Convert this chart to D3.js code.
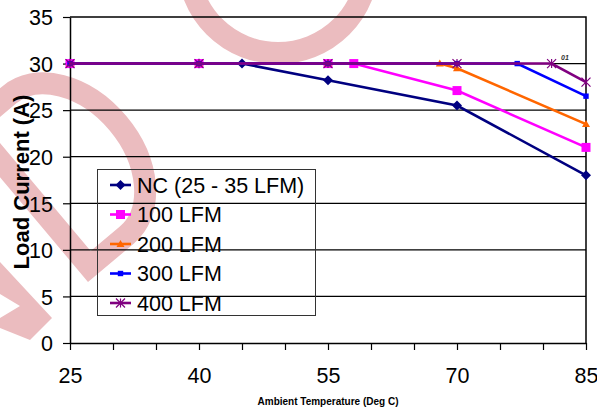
<!DOCTYPE html>
<html><head><meta charset="utf-8">
<script src="https://cdn.jsdelivr.net/npm/d3@7"></script>
<style>body{margin:0;background:#fff}svg{display:block}text{font-family:"Liberation Sans",Arial,sans-serif}</style>
</head><body><svg id="c" width="597" height="410"></svg>
<script>
const seriesNames = ["NC (25 - 35 LFM)", "100 LFM", "200 LFM", "300 LFM", "400 LFM"];
const ncTemps = [25, 40, 45, 55, 70, 85];
const ncValues = [30, 30, 30, 28.2, 25.5, 18];
const lfm100Temps = [25, 40, 55, 58, 70, 85];
const lfm100Values = [30, 30, 30, 30, 27.1, 21];
const lfm200Temps = [25, 40, 55, 68, 70, 85];
const lfm200Values = [30, 30, 30, 30, 29.5, 23.5];
const lfm300Temps = [25, 40, 55, 70, 77, 85];
const lfm300Values = [30, 30, 30, 30, 30, 26.5];
const lfm400Temps = [25, 40, 55, 70, 81, 85];
const lfm400Values = [30, 30, 30, 30, 30, 28];
const xTicks = [25, 30, 35, 40, 45, 50, 55, 60, 65, 70, 75, 80, 85];
const xTickLabels = [25, 40, 55, 70, 85];
const yTicks = [0, 5, 10, 15, 20, 25, 30, 35];
const colors = ["#000080", "#FF00FF", "#FF6600", "#0000FF", "#800080"];
const markers = ["diamond", "square", "triangle", "smallsquare", "asterisk"];

const svg = d3.select("#c");
const x = d3.scaleLinear().domain([25, 85]).range([70, 586]);
const y = d3.scaleLinear().domain([0, 35]).range([343, 17]);

// watermark
const wm = svg.append("g").attr("fill", "none").attr("stroke", "#ebbcbf").attr("stroke-width", 22);
wm.append("g").attr("transform", "translate(88,282) rotate(-40)")
  .append("path").attr("stroke-linejoin", "miter")
  .attr("d", "M60,-11 L11,-11 L11,-194 L60,-194 A65,91.5 0 0 1 60,-11 Z");
wm.append("circle").attr("cx", 278).attr("cy", -37).attr("r", 90);
svg.append("path").attr("fill", "#ebbcbf")
  .attr("d", "M0,262 L52,318 L30,340 L0,328 L0,318 L20,306 L0,294 Z");

// gridlines
svg.append("g").selectAll("line").data(yTicks.filter(d => d > 0 && d < 35)).join("line")
  .attr("x1", 70).attr("x2", 586).attr("y1", d => y(d)).attr("y2", d => y(d))
  .attr("stroke", "#000").attr("stroke-width", 1.2);
// border top / right
svg.append("path").attr("d", `M70,${y(35)}H586V${y(0)}`).attr("fill", "none").attr("stroke", "#000").attr("stroke-width", 1.5);

// axes
const xa = svg.append("g").attr("transform", `translate(0,${y(0)})`)
  .call(d3.axisBottom(x).tickValues(xTicks).tickSize(7).tickSizeOuter(0)
    .tickFormat(d => xTickLabels.includes(d) ? d : ""));
xa.select(".domain").attr("stroke-width", 1.5);
xa.selectAll("text").attr("font-size", 21.5).attr("fill", "#000").attr("dy", null).attr("y", 40);
const ya = svg.append("g").attr("transform", `translate(70,0)`)
  .call(d3.axisLeft(y).tickValues(yTicks).tickSize(7).tickSizeOuter(0));
ya.select(".domain").attr("stroke-width", 1.5);
ya.selectAll("text").attr("font-size", 21.5).attr("fill", "#000").attr("x", -17).attr("dy", "0.36em");
svg.selectAll(".tick line").attr("stroke", "#000").attr("stroke-width", 1.2);

// titles
svg.append("text").attr("transform", "translate(29,182) rotate(-90)").attr("text-anchor", "middle")
  .attr("font-size", 22).attr("font-weight", "bold").text("Load Current (A)");
svg.append("text").attr("x", 328).attr("y", 405).attr("text-anchor", "middle")
  .attr("font-size", 10).attr("font-weight", "bold").text("Ambient Temperature (Deg C)");

function drawMarker(g, type, cx, cy, color) {
  if (type === "diamond") {
    g.append("path").attr("d", `M${cx},${cy-5}L${cx+5},${cy}L${cx},${cy+5}L${cx-5},${cy}Z`).attr("fill", color);
  } else if (type === "square") {
    g.append("rect").attr("x", cx-4.5).attr("y", cy-4.5).attr("width", 9).attr("height", 9).attr("fill", color);
  } else if (type === "triangle") {
    g.append("path").attr("d", `M${cx},${cy-4}L${cx+4},${cy+3}L${cx-4},${cy+3}Z`).attr("fill", color);
  } else if (type === "smallsquare") {
    g.append("rect").attr("x", cx-2.7).attr("y", cy-2.7).attr("width", 5.4).attr("height", 5.4).attr("fill", color);
  } else if (type === "asterisk") {
    g.append("path").attr("d", `M${cx-4.5},${cy-4.5}L${cx+4.5},${cy+4.5}M${cx-4.5},${cy+4.5}L${cx+4.5},${cy-4.5}M${cx},${cy-4.5}L${cx},${cy+4.5}`)
      .attr("stroke", color).attr("stroke-width", 1.2).attr("fill", "none");
  }
}

// legend box
svg.append("rect").attr("x", 97.5).attr("y", 169.5).attr("width", 218).attr("height", 146)
  .attr("fill", "none").attr("stroke", "#333").attr("stroke-width", 1);

// series
const temps = [ncTemps, lfm100Temps, lfm200Temps, lfm300Temps, lfm400Temps];
const vals = [ncValues, lfm100Values, lfm200Values, lfm300Values, lfm400Values];
const line = d3.line().x(d => x(d[0])).y(d => y(d[1]));
seriesNames.forEach((name, i) => {
  const pts = temps[i].map((t, j) => [t, vals[i][j]]);
  const g = svg.append("g");
  g.append("path").datum(pts).attr("d", line).attr("fill", "none")
    .attr("stroke", colors[i]).attr("stroke-width", 2.6);
  pts.forEach(p => drawMarker(g, markers[i], x(p[0]), y(p[1]), colors[i]));
  // legend entry
  const ly = 185 + i * 29.5;
  const lg = svg.append("g");
  lg.append("line").attr("x1", 110).attr("x2", 131).attr("y1", ly).attr("y2", ly)
    .attr("stroke", colors[i]).attr("stroke-width", 2.6);
  drawMarker(lg, markers[i], 120.5, ly, colors[i]);
  lg.append("text").attr("x", 137).attr("y", ly + 7.7).attr("font-size", 21.5).attr("fill", "#000").text(name);
});

svg.append("text").attr("x", 561).attr("y", 60).attr("font-size", 7).attr("font-weight", "bold")
  .attr("font-style", "italic").attr("fill", "#333").text("01");
</script></body></html>
